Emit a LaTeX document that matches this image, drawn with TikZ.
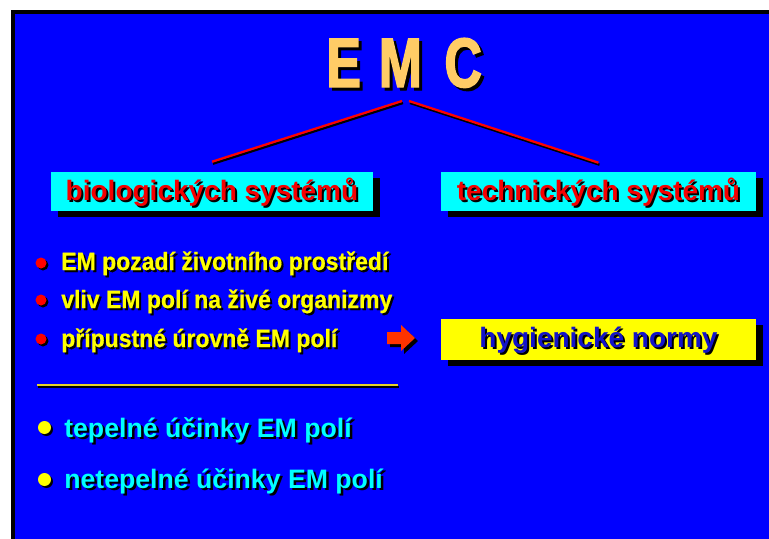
\documentclass[tikz,border=0pt]{standalone}
\usepackage{fontspec}
\setmainfont{Liberation Sans}
\newfontfamily\titlefont[FakeStretch=0.74,FakeBold=2]{Liberation Sans}
\newfontfamily\narrowfont[FakeStretch=0.92,FakeBold=0.6]{Liberation Sans}
\usetikzlibrary{calc}
\definecolor{bgblue}{HTML}{0000FF}
\definecolor{boxcyan}{HTML}{00FFFF}
\definecolor{redtxt}{HTML}{F50000}
\definecolor{titlecol}{HTML}{FFCC66}
\definecolor{yel}{HTML}{FFFF00}
\definecolor{bluetxt}{HTML}{1414C8}
\definecolor{arrowred}{HTML}{FF3300}
\definecolor{sepcol}{HTML}{E6D22A}
\newcommand\shadowtxt[5]{%
  \node[#3,text=black] (#1-sh) at ($(#2)+(#4)$) {#5};
  \node[#3] (#1) at (#2) {#5};}
\tikzset{
  titletxt/.style={font=\titlefont\fontsize{52.5}{60}\selectfont\bfseries, inner sep=0, anchor=base west},
  boxtxt/.style={font=\fontsize{21}{24}\selectfont\bfseries, inner sep=0, anchor=base},
  yltxt/.style={font=\narrowfont\fontsize{18.75}{22}\selectfont\bfseries, inner sep=0, anchor=base west, text=yel},
  cytxt/.style={font=\fontsize{20}{24}\selectfont\bfseries, inner sep=0, anchor=base west, text=boxcyan},
  panel/.style={rectangle, inner sep=0, draw=none},
  panelshadow/.style={rectangle, inner sep=0, fill=black, draw=none},
  redline/.style={draw=red, line width=1.7pt},
  blackline/.style={draw=black, line width=1.7pt},
  redbullet/.style={circle, fill=red, inner sep=0, minimum size=8.25pt},
  yelbullet/.style={circle, fill=yel, inner sep=0, minimum size=9.75pt},
  bulletshadow/.style={circle, fill=black, inner sep=0},
}
\begin{document}
\begin{tikzpicture}[x=0.75pt,y=-0.75pt]
\useasboundingbox (0,0) rectangle (769,539);
\fill[white] (0,0) rectangle (769,539);
\fill[black] (11,10) rectangle (769,539);
\fill[bgblue] (15,14) rectangle (769,539);

% title
\shadowtxt{title}{326.2,87}{titletxt,text=titlecol}{3,3}{E\hspace{13.4pt}M\hspace{16.9pt}C}

% boxes
\node[panelshadow, minimum width=241.5pt, minimum height=29.25pt] (box1-sh) at (219,197.5) {};
\node[panel, fill=boxcyan, minimum width=241.5pt, minimum height=29.25pt] (box1) at (212,191.5) {};
\node[panelshadow, minimum width=236.25pt, minimum height=29.25pt] (box2-sh) at (605.5,197.5) {};
\node[panel, fill=boxcyan, minimum width=236.25pt, minimum height=29.25pt] (box2) at (598.5,191.5) {};
\node[panelshadow, minimum width=236.25pt, minimum height=30.75pt] (box3-sh) at (605.5,345.5) {};
\node[panel, fill=yel, minimum width=236.25pt, minimum height=30.75pt] (box3) at (598.5,339.5) {};

\shadowtxt{bio}{212,200}{boxtxt,text=redtxt}{2,2}{biologických systémů}
\shadowtxt{tech}{598.5,200}{boxtxt,text=redtxt}{2,2}{technických systémů}
\shadowtxt{hyg}{598.5,347}{boxtxt,text=bluetxt}{2,2}{hygienické normy}

% connectors from title
\coordinate (apexL) at (402,101);
\coordinate (apexR) at (409,101);
\draw[blackline] ($(apexL)+(1,2)$) -- ($(box1.north)+(1,-8)$);
\draw[redline] (apexL) -- ($(box1.north)+(0,-10)$);
\draw[blackline] ($(apexR)+(1,2)$) -- ($(box2.north)+(1,-7)$);
\draw[redline] (apexR) -- ($(box2.north)+(0,-9)$);

% red bullets and yellow text
\node[bulletshadow, minimum size=8.25pt] (rb1-sh) at (43,265) {};
\node[redbullet] (rb1) at (41,263) {};
\node[bulletshadow, minimum size=8.25pt] (rb2-sh) at (43,302) {};
\node[redbullet] (rb2) at (41,300) {};
\node[bulletshadow, minimum size=8.25pt] (rb3-sh) at (43,341) {};
\node[redbullet] (rb3) at (41,339) {};
\shadowtxt{l1}{61,270}{yltxt}{2,2}{EM pozadí životního prostředí}
\shadowtxt{l2}{61,308}{yltxt}{2,2}{vliv EM polí na živé organizmy}
\shadowtxt{l3}{61,347}{yltxt}{2,2}{přípustné úrovně EM polí}

% block arrow
\fill[black] (390,335) -- (404,335) -- (404,328) -- (418,341) -- (404,354) -- (404,347) -- (390,347) -- cycle;
\fill[arrowred] (387,332) -- (401,332) -- (401,325) -- (415,338) -- (401,351) -- (401,344) -- (387,344) -- cycle;

% separator
\coordinate (sepL) at (37,385);
\coordinate (sepR) at (398,385);
\draw[black, line width=1.5pt] ($(sepL)+(1,2)$) -- ($(sepR)+(1,2)$);
\draw[sepcol, line width=1.1pt] (sepL) -- (sepR);

% yellow bullets and cyan text
\node[bulletshadow, minimum size=9.75pt] (yb1-sh) at (46.5,429.5) {};
\node[yelbullet] (yb1) at (44.5,427.5) {};
\node[bulletshadow, minimum size=9.75pt] (yb2-sh) at (46.5,481.5) {};
\node[yelbullet] (yb2) at (44.5,479.5) {};
\shadowtxt{c1}{64,437}{cytxt}{2.5,2.5}{tepelné účinky EM polí}
\shadowtxt{c2}{64,488}{cytxt}{2.5,2.5}{netepelné účinky EM polí}
\end{tikzpicture}
\end{document}
